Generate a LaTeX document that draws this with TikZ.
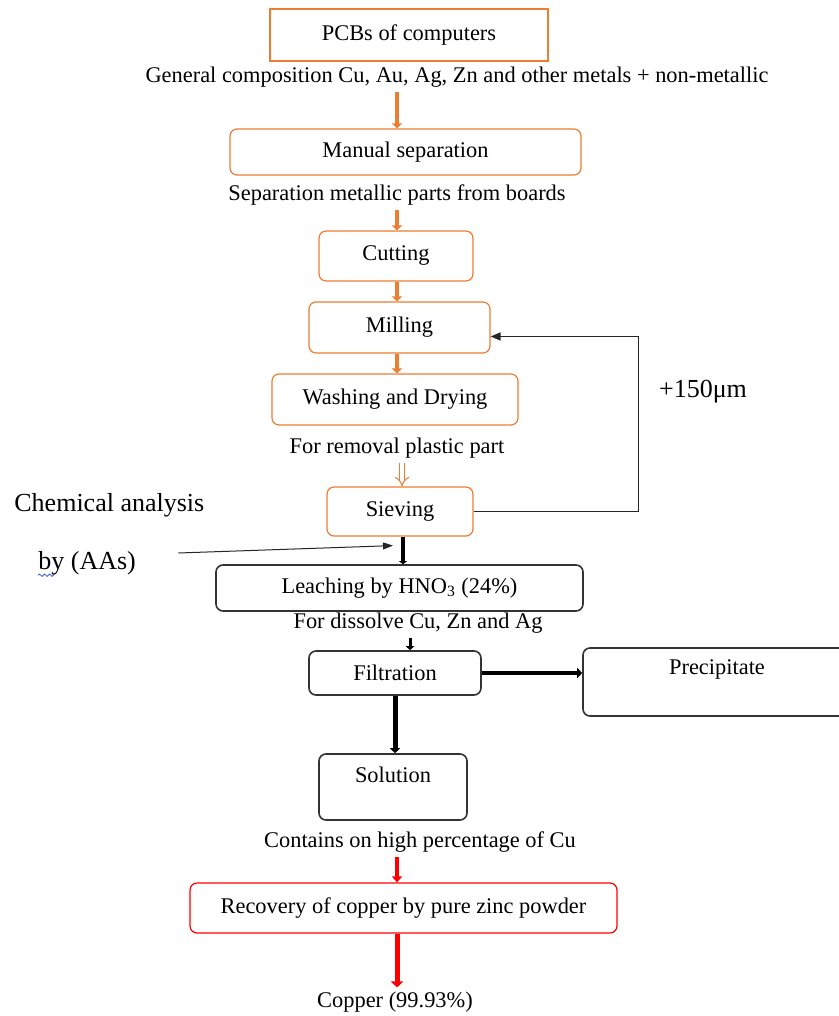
\documentclass[tikz,border=0pt]{standalone}
\usepackage{fontspec}
\setmainfont{Liberation Serif}
\usepackage{tikz}
\usetikzlibrary{arrows.meta, positioning, calc, decorations.pathmorphing}
\definecolor{procorange}{RGB}{237, 125, 49}
\definecolor{recred}{RGB}{255, 0, 0}
\definecolor{spellblue}{RGB}{60, 90, 220}
\tikzset{
  orbox/.style={draw=procorange, line width=0.6pt, rounded corners=3.5pt, inner sep=0pt, align=center},
  blbox/.style={draw=black!80, line width=0.8pt, rounded corners=3.5pt, inner sep=0pt, align=center},
  note/.style={inner sep=2pt, align=center},
  orarrow/.style={draw=procorange, line width=2pt, -{Triangle[length=2.5pt, width=5pt]}},
  blarrow/.style={draw=black, line width=2pt, -{Triangle[length=2.5pt, width=5pt]}},
  redarrow/.style={draw=recred, line width=2pt, -{Triangle[length=3pt, width=5pt]}},
  thinarrow/.style={draw=black!85, line width=0.5pt, -{Triangle[length=5pt, width=3.5pt]}}
}

\begin{document}
\begin{tikzpicture}[x=0.5pt, y=-0.5pt, font=\fontsize{11.2}{13}\selectfont]
  \useasboundingbox (0,0) rectangle (839,1016);
  \coordinate (axis) at (397,0);

  % Orange stages
  \node[orbox, rounded corners=0pt, minimum width=139pt, minimum height=26pt] (pcb) at (409,35) {PCBs of computers};
  \node[note] (comp) at (457,77) {General composition Cu, Au, Ag, Zn and other metals + non-metallic};
  \node[orbox, minimum width=175.5pt, minimum height=23pt] (manual) at (405.5,152) {Manual separation};
  \node[note] (sep) at (397,195) {Separation metallic parts from boards};
  \node[orbox, minimum width=77pt, minimum height=25pt] (cutting) at (396,256) {Cutting};
  \node[orbox, minimum width=90.5pt, minimum height=25.5pt] (milling) at (399.5,327.5) {Milling};
  \node[orbox, minimum width=123pt, minimum height=25.5pt] (washing) at (395,399.5) {Washing and Drying};
  \node[note] (removal) at (397,448) {For removal plastic part};
  \node[orbox, minimum width=73pt, minimum height=24.5pt] (sieving) at (400,511.5) {Sieving};

  % Side notes
  \node[note, font=\fontsize{13}{15}\selectfont] (micron) at (703,392) {+150μm};
  \node[note, anchor=west, font=\fontsize{13}{15}\selectfont] (chem) at (10,505) {Chemical analysis};
  \node[note, anchor=west, font=\fontsize{13}{15}\selectfont] (aas) at (34,563) {by (AAs)};

  % Black stages
  \node[blbox, minimum width=183.5pt, minimum height=23pt] (leaching) at (399.5,588) {Leaching by HNO\textsubscript{3} (24\%)};
  \node[note] (dissolve) at (418,623) {For dissolve Cu, Zn and Ag};
  \node[blbox, minimum width=86pt, minimum height=22pt] (filtration) at (395,673) {Filtration};
  \node[blbox, minimum width=134pt, text height=13pt, text depth=21pt] (precipitate) at (717,682) {Precipitate};
  \node[blbox, minimum width=74pt, text height=14pt, text depth=19pt] (solution) at (393,787) {Solution};
  \node[note] (contains) at (420,842) {Contains on high percentage of Cu};

  % Red stage
  \node[orbox, draw=recred, minimum width=213.5pt, minimum height=25pt] (recovery) at (403.5,908) {Recovery of copper by pure zinc powder};
  \node[note] (copper) at (395,1002) {Copper (99.93\%)};

  % Arrows
  \draw[orarrow] (axis |- comp.south) -- (axis |- manual.north);
  \draw[orarrow] (axis |- sep.south) -- (axis |- cutting.north);
  \draw[orarrow] (axis |- cutting.south) -- (axis |- milling.north);
  \draw[orarrow] (axis |- milling.south) -- (axis |- washing.north);
  \draw[procorange, line width=0.5pt, double=white, double distance=2pt, -{Implies[length=3pt]}] ([xshift=2.5pt]removal.south) -- ([xshift=2.5pt]removal.south |- sieving.north);
  \draw[black!85, line width=0.8pt, -{Triangle[length=5pt, width=4pt]}] (sieving.east) -- ++(165,0) |- ([yshift=-4.5pt]milling.east);
  \draw[thinarrow] ([shift={(19pt,5pt)}]aas.east) -- ([shift={(-3.5pt,-4.5pt)}]sieving.south);
  \draw[spellblue, line width=0.4pt, decorate, decoration={snake, amplitude=0.6pt, segment length=2.5pt}] ([shift={(2pt,2pt)}]aas.south west) -- ++(16,0);
  \draw[blarrow, -{Triangle[length=1.5pt, width=4pt]}] ([xshift=1.5pt]sieving.south) -- ([xshift=1.5pt]sieving.south |- leaching.north);
  \draw[blarrow, line width=1.5pt, -{Triangle[length=2pt, width=4pt]}] ([xshift=-4pt]dissolve.south) -- ([xshift=-4pt]dissolve.south |- filtration.north);
  \draw[blarrow] (filtration.east) -- (filtration.east -| precipitate.west);
  \draw[blarrow, line width=2.5pt] (filtration.south) -- (filtration.south |- solution.north);
  \draw[redarrow, line width=1.6pt] (axis |- contains.south) -- (axis |- recovery.north);
  \draw[redarrow, line width=2.5pt, -{Triangle[length=3pt, width=6pt]}] (axis |- recovery.south) -- (axis |- copper.north);
\end{tikzpicture}
\end{document}
